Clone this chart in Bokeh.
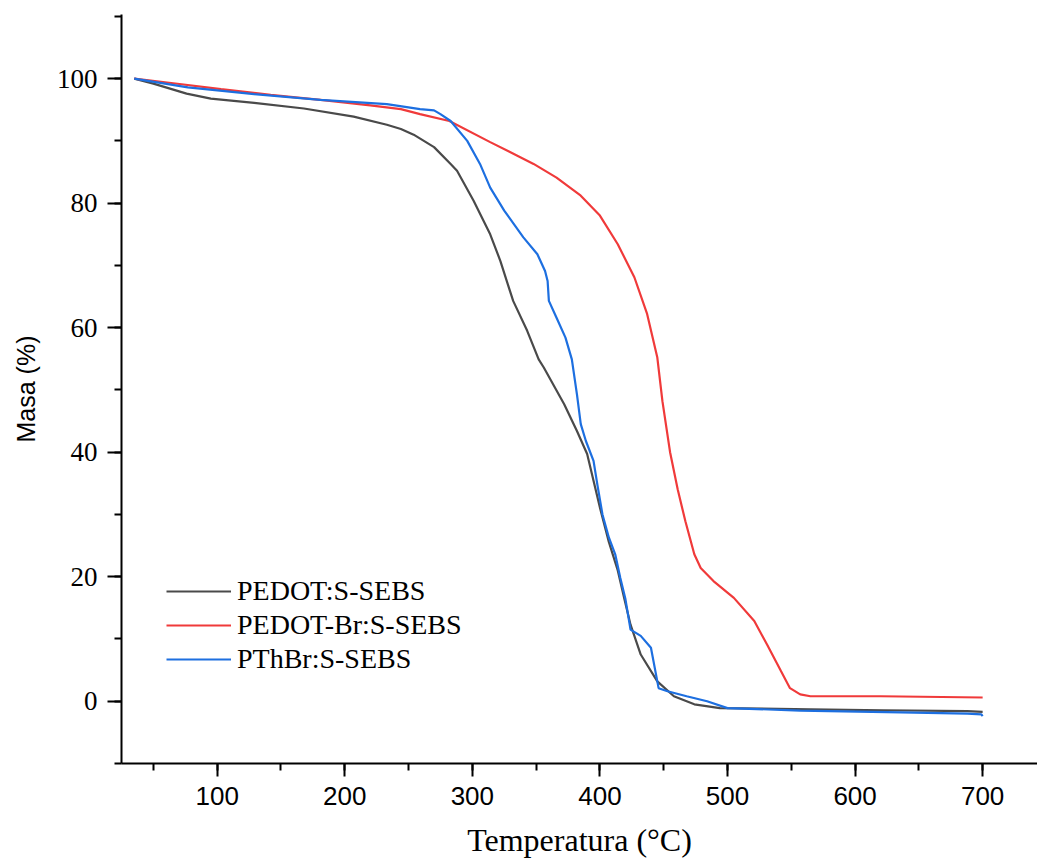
from bokeh.plotting import figure
from bokeh.models import Range1d, SingleIntervalTicker, Legend, LegendItem
from bokeh.embed import file_html
from bokeh.resources import INLINE

# PEDOT:S-SEBS
t_pedot = [35, 50, 76, 95, 129, 168, 207, 233, 244, 254, 270, 283, 288, 301, 314, 322, 332,
           343, 352, 356, 372, 382, 390, 395, 400, 407, 414, 419, 424, 432, 445, 458, 474,
           494, 565, 622, 688, 700]
m_pedot = [100, 99.2, 97.6, 96.8, 96.1, 95.2, 93.9, 92.6, 91.9, 91.0, 89.0, 86.3, 85.2, 80.4,
           75.0, 70.7, 64.3, 59.5, 54.9, 53.6, 47.7, 43.4, 39.7, 35.4, 31.1, 25.6, 21.0, 16.6,
           12.3, 7.5, 3.2, 0.8, -0.5, -1.1, -1.3, -1.45, -1.6, -1.7]

# PEDOT-Br:S-SEBS
t_pedotbr = [35, 64, 103, 142, 181, 220, 244, 259, 282, 314, 348, 366, 385, 400, 414, 427,
             437, 445, 449, 455, 461, 467, 474, 479, 489, 505, 521, 531, 542, 549, 557, 565,
             620, 700]
m_pedotbr = [100, 99.3, 98.3, 97.4, 96.6, 95.7, 95.1, 94.3, 93.2, 89.8, 86.3, 84.1, 81.2,
             78.0, 73.4, 68.1, 62.2, 55.2, 48.2, 40.0, 34.0, 28.9, 23.6, 21.4, 19.3, 16.6,
             12.9, 9.1, 4.8, 2.1, 1.1, 0.8, 0.8, 0.6]

# PThBr:S-SEBS
t_pthbr = [35, 77, 129, 181, 233, 259, 270, 275, 283, 296, 306, 314, 325, 340, 351, 357,
           359, 360, 366, 373, 378, 382, 385, 389, 395, 398, 402, 407, 412, 416, 420, 424,
           432, 440, 446, 453, 468, 484, 500, 557, 636, 688, 699, 700]
m_pthbr = [100, 98.6, 97.5, 96.6, 95.9, 95.1, 94.9, 94.3, 93.2, 90.0, 86.3, 82.5, 78.8,
           74.5, 71.8, 69.1, 67.5, 64.3, 61.6, 58.4, 54.9, 49.3, 44.5, 41.8, 38.6, 34.8,
           30.0, 26.3, 23.6, 19.8, 16.4, 11.5, 10.5, 8.6, 2.1, 1.6, 0.8, 0.0, -1.1, -1.5,
           -1.8, -2.0, -2.1, -2.4]

labels = ["PEDOT:S-SEBS", "PEDOT-Br:S-SEBS", "PThBr:S-SEBS"]
colors = ["#4a4a4a", "#f03a3a", "#1d6fe0"]

p = figure(width=1037, height=862, output_backend="svg", toolbar_location=None,
           x_range=Range1d(25, 743), y_range=Range1d(-10, 110.3),
           min_border_left=121, min_border_right=0, min_border_top=14, min_border_bottom=99)
p.outline_line_color = None
p.xgrid.visible = False
p.ygrid.visible = False
p.background_fill_color = "white"
p.border_fill_color = "white"

r1 = p.line(t_pedot, m_pedot, line_color=colors[0], line_width=2.2)
r2 = p.line(t_pedotbr, m_pedotbr, line_color=colors[1], line_width=2.2)
r3 = p.line(t_pthbr, m_pthbr, line_color=colors[2], line_width=2.2)

xa = p.xaxis[0]
xa.ticker = SingleIntervalTicker(interval=100, num_minor_ticks=2)
xa.axis_label = "Temperatura (°C)"
xa.axis_label_text_font = "Liberation Serif"
xa.axis_label_text_font_size = "32px"
xa.axis_label_text_font_style = "normal"
xa.axis_label_text_color = "black"
xa.axis_label_standoff = 14
xa.major_label_text_font = "Liberation Sans"
xa.major_label_text_font_size = "26px"
xa.major_label_text_color = "black"
xa.major_label_standoff = 10
xa.axis_line_width = 2
xa.axis_line_color = "black"
xa.major_tick_line_width = 2
xa.minor_tick_line_width = 2
xa.major_tick_line_color = "black"
xa.minor_tick_line_color = "black"
xa.major_tick_in = 0
xa.major_tick_out = 13
xa.minor_tick_in = 0
xa.minor_tick_out = 7

ya = p.yaxis[0]
ya.ticker = SingleIntervalTicker(interval=20, num_minor_ticks=2)
ya.axis_label = "Masa (%)"
ya.axis_label_text_font = "Liberation Sans"
ya.axis_label_text_font_size = "25px"
ya.axis_label_text_font_style = "normal"
ya.axis_label_text_color = "black"
ya.axis_label_standoff = 14
ya.major_label_text_font = "Liberation Serif"
ya.major_label_text_font_size = "27px"
ya.major_label_text_color = "black"
ya.major_label_standoff = 10
ya.axis_line_width = 2
ya.axis_line_color = "black"
ya.major_tick_line_width = 2
ya.minor_tick_line_width = 2
ya.major_tick_line_color = "black"
ya.minor_tick_line_color = "black"
ya.major_tick_in = 0
ya.major_tick_out = 14
ya.minor_tick_in = 0
ya.minor_tick_out = 7

legend = Legend(items=[LegendItem(label=labels[0], renderers=[r1]),
                       LegendItem(label=labels[1], renderers=[r2]),
                       LegendItem(label=labels[2], renderers=[r3])],
                location=(45, 87), padding=0, margin=0, spacing=0,
                glyph_width=65, glyph_height=34, label_height=34,
                label_standoff=6, border_line_color=None,
                background_fill_alpha=0,
                label_text_font="Liberation Serif", label_text_font_size="28px",
                label_text_color="black")
p.add_layout(legend, "center")

open("out.html", "w").write(file_html(p, INLINE))
